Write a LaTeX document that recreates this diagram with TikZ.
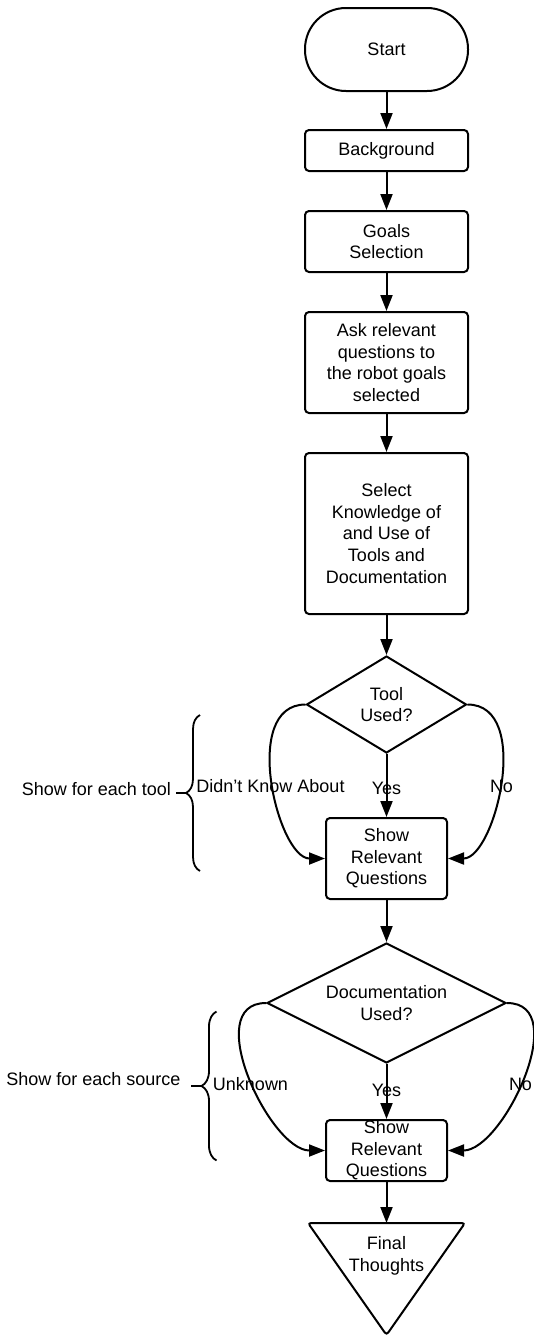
\documentclass[tikz,border=0pt]{standalone}
\usepackage{fontspec}
\setmainfont{Liberation Sans}
\usetikzlibrary{shapes.geometric,arrows.meta,decorations.pathreplacing}

\begin{document}
\begin{tikzpicture}[x=1pt,y=-1pt,
  font=\fontsize{18}{21.6}\selectfont,
  line width=2pt,
  flow/.style={-{Triangle[length=16pt,width=12pt]}},
  stepbox/.style={draw, rounded corners=4pt, minimum width=163pt, align=center, inner sep=0pt},
  decide/.style={draw, diamond, shape aspect=2, inner sep=0pt, align=center},
  tag/.style={inner sep=0pt, align=center},
  bracket/.style={decorate, decoration={brace, amplitude=#1}, line width=1.8pt}]
\useasboundingbox (0,0) rectangle (534,1336);

% main column
\node[draw, rounded corners=41pt, minimum width=163pt, minimum height=83pt] (start) at (386.5,49.5) {Start};
\node[stepbox, minimum height=41pt] (bg) at (386.5,150.5) {Background};
\node[stepbox, minimum height=61pt] (goals) at (386.5,241.5) {Goals\\Selection};
\node[stepbox, minimum height=101pt] (ask) at (386.5,362.5) {Ask relevant\\questions to\\the robot goals\\selected};
\node[stepbox, minimum height=161pt] (sel) at (386.5,533.5) {Select\\Knowledge of\\and Use of\\Tools and\\Documentation};
\node[decide, minimum width=160pt, minimum height=97pt] (tool) at (386.5,704.5) {Tool\\Used?};
\node[stepbox, minimum width=121pt, minimum height=81pt] (sq1) at (386.5,858.5) {Show\\Relevant\\Questions};
\node[decide, minimum width=239pt, minimum height=120pt] (doc) at (386.5,1003) {Documentation\\Used?};
\node[stepbox, minimum width=121pt, minimum height=61pt] (sq2) at (386.5,1150.5) {Show\\Relevant\\Questions};

% closing triangle
\coordinate (fintop) at (386.5,1223);
\draw[rounded corners=3pt] (308,1223) -- (465,1223) -- (386.5,1335) -- cycle;
\node[tag] (fin) at (386.5,1256) {Final\\Thoughts};

% straight connectors
\draw[flow] (start) -- (bg);
\draw[flow] (bg) -- (goals);
\draw[flow] (goals) -- (ask);
\draw[flow] (ask) -- (sel);
\draw[flow] (sel) -- (tool);
\draw[flow] (tool.south) -- (sq1.north);
\draw[flow] (sq1) -- (doc);
\draw[flow] (doc.south) -- (sq2.north);
\draw[flow] (sq2) -- (fintop);

% curved branches
\draw[flow] (tool.west) .. controls (240,704.5) and (278,858.5) .. (sq1.west);
\draw[flow] (tool.east) .. controls (533,704.5) and (495,858.5) .. (sq1.east);
\draw[flow] (doc.west) .. controls (200,1003) and (270,1150.5) .. (sq2.west);
\draw[flow] (doc.east) .. controls (573,1003) and (503,1150.5) .. (sq2.east);

% branch labels
\node[tag] (l1) at (270.5,786) {Didn’t Know About};
\node[tag] (y1) at (386.5,788) {Yes};
\node[tag] (n1) at (501.5,786) {No};
\node[tag] (l2) at (250.5,1084.5) {Unknown};
\node[tag] (y2) at (386.5,1090) {Yes};
\node[tag] (n2) at (520.5,1084.5) {No};

% braces with notes
\coordinate (b1bot) at (200,871);
\coordinate (b1top) at (200,715);
\draw[bracket=14pt] (b1bot) -- (b1top);
\coordinate (b1tip) at (186,793);
\coordinate (b1end) at (176,793);
\draw[line width=1.8pt] (b1tip) -- (b1end);
\node[tag, anchor=east] (s1) at (172,789) {Show for each tool};

\coordinate (b2bot) at (216.5,1160.5);
\coordinate (b2top) at (216.5,1011.5);
\draw[bracket=15pt] (b2bot) -- (b2top);
\coordinate (b2tip) at (201.5,1086);
\coordinate (b2end) at (191,1086);
\draw[line width=1.8pt] (b2tip) -- (b2end);
\node[tag, anchor=east] (s2) at (181.5,1079.5) {Show for each source};
\end{tikzpicture}
\end{document}
